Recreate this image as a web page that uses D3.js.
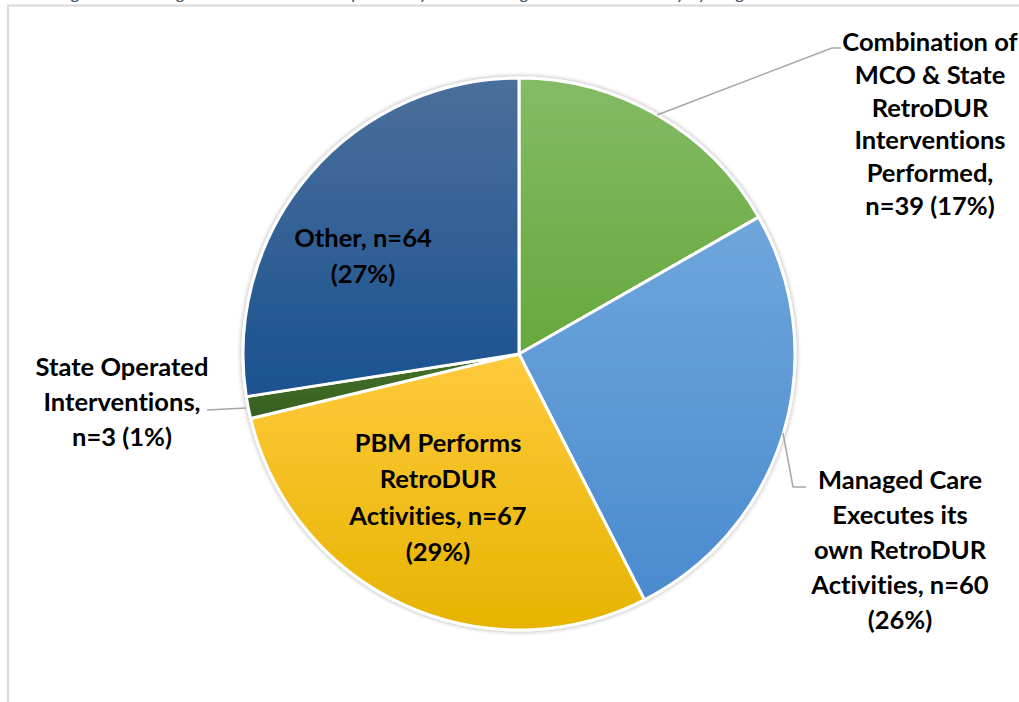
<!DOCTYPE html>
<html><head><meta charset="utf-8">
<script src="https://cdn.jsdelivr.net/npm/d3@7"></script>
<style>
html,body{margin:0;padding:0;background:#fff;}
svg{display:block;}
text{font-variant-ligatures:none;font-feature-settings:"liga" 0,"clig" 0;}
</style></head>
<body><div id="chart"></div>
<script>
const categories = [
  "Combination of MCO & State RetroDUR Interventions Performed",
  "Managed Care Executes its own RetroDUR Activities",
  "PBM Performs RetroDUR Activities",
  "State Operated Interventions",
  "Other"
];
const counts = [39, 60, 67, 3, 64];
const percents = [17, 26, 29, 1, 27];
const labelLines = [
  ["Combination of", "MCO & State", "RetroDUR", "Interventions", "Performed,", "n=39 (17%)"],
  ["Managed Care", "Executes its", "own RetroDUR", "Activities, n=60", "(26%)"],
  ["PBM Performs", "RetroDUR", "Activities, n=67", "(29%)"],
  ["State Operated", "Interventions,", "n=3 (1%)"],
  ["Other, n=64", "(27%)"]
];
const colorTop = ["#84bb66", "#6fa6db", "#ffca3c", "#44722a", "#4b6f9b"];
const colorBottom = ["#66a83c", "#4a8bcf", "#e6b300", "#375f1f", "#1a5290"];
const titleText = "Figure 9 - Managed Care RetroDUR Responsibility: Who Manages RetroDUR Activity by Program";

const W = 1019, H = 702;
const cx = 519, cy = 354, R = 276;

const svg = d3.select("#chart").append("svg").attr("width", W).attr("height", H);
const defs = svg.append("defs");
colorTop.forEach((c, i) => {
  const g = defs.append("linearGradient").attr("id", "g" + i)
    .attr("x1", 0).attr("y1", 0).attr("x2", 0).attr("y2", 1);
  g.append("stop").attr("offset", "0%").attr("stop-color", c);
  g.append("stop").attr("offset", "100%").attr("stop-color", colorBottom[i]);
});
const f = defs.append("filter").attr("id", "sh").attr("x", "-10%").attr("y", "-10%").attr("width", "120%").attr("height", "120%");
f.append("feGaussianBlur").attr("in", "SourceAlpha").attr("stdDeviation", 2.5).attr("result", "b");
f.append("feComponentTransfer").attr("in", "b").attr("result", "o2")
  .append("feFuncA").attr("type", "linear").attr("slope", 0.35);
const fm = f.append("feMerge");
fm.append("feMergeNode").attr("in", "o2");
fm.append("feMergeNode").attr("in", "SourceGraphic");

// cut-off title (only its lower edge is visible, as in the reference)
svg.append("text").attr("x", 58).attr("y", -1.5)
  .attr("font-family", "Lato, 'Open Sans', sans-serif").attr("font-style", "italic")
  .attr("font-size", 18).attr("fill", "#44546a").text(titleText);

// frame
svg.append("path").attr("d", `M8,${H} V5.5 H${W}`).attr("fill", "none")
  .attr("stroke", "#d9d9d9").attr("stroke-width", 2);

const pie = d3.pie().sort(null).value(d => d)(counts);
const arc = d3.arc().innerRadius(0).outerRadius(R);
const g = svg.append("g").attr("transform", `translate(${cx},${cy})`);
const gp = g.append("g").attr("filter", "url(#sh)");
gp.selectAll("path").data(pie).join("path")
  .attr("d", arc)
  .attr("fill", (d, i) => `url(#g${i})`)
  .attr("stroke", "#fff").attr("stroke-width", 3).attr("stroke-linejoin", "round");

// leader lines
const leaders = [
  [[657, 115], [832, 48], [841, 48]],
  [[783, 433], [793, 487], [806, 487]],
  [[207, 410], [246, 408]]
];
svg.selectAll("path.leader").data(leaders).join("path").attr("class", "leader")
  .attr("d", d => d3.line()(d)).attr("fill", "none")
  .attr("stroke", "#a6a6a6").attr("stroke-width", 1.5);

// labels
const labelPos = [
  {x: 930, y: 42, dy: 32.8},
  {x: 900, y: 480, dy: 35},
  {x: 438, y: 443, dy: 36.5},
  {x: 122, y: 367, dy: 35},
  {x: 363, y: 238, dy: 36.5}
];
labelLines.forEach((lines, i) => {
  const p = labelPos[i];
  const t = svg.append("text").attr("text-anchor", "middle")
    .attr("font-family", "Lato, 'Open Sans', sans-serif").attr("font-weight", "bold")
    .attr("font-size", 25.5).attr("fill", "#000");
  lines.forEach((l, j) => {
    t.append("tspan").attr("x", p.x).attr("y", p.y + j * p.dy).attr("dy", "0.35em").text(l);
  });
});
</script>
</body></html>
